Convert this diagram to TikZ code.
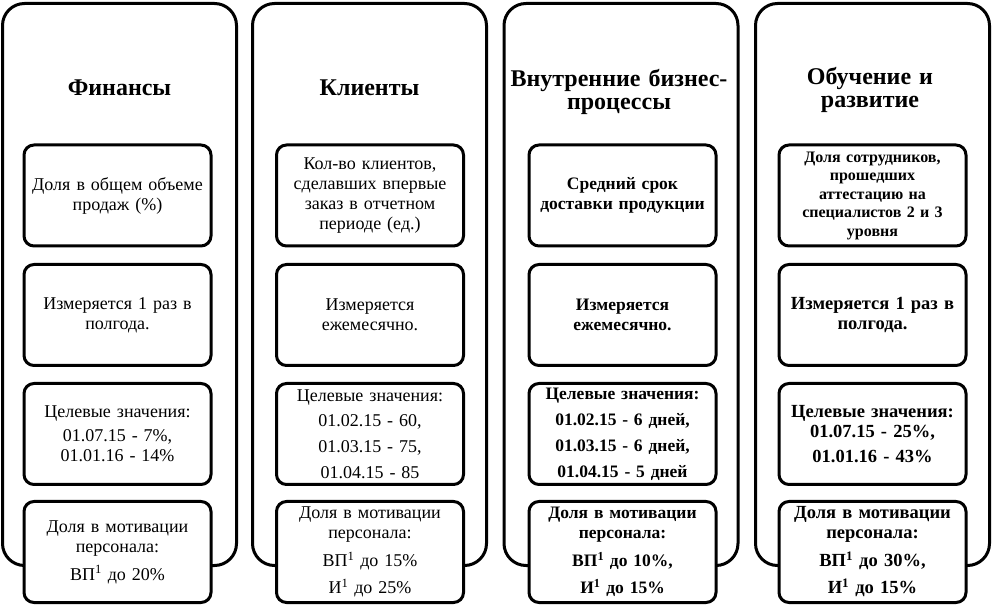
\documentclass[tikz,border=0pt]{standalone}
\usepackage{fontspec}
\setmainfont{Liberation Serif}
\begin{document}
\begin{tikzpicture}[x=1pt,y=-1pt,
  outerbox/.style={draw,line width=3pt,rounded corners=22pt,minimum width=234pt,minimum height=562pt,inner sep=0pt},
  innerbox/.style={draw,fill=white,line width=3pt,rounded corners=10pt,minimum width=187pt,minimum height=101pt,text width=184pt,align=center,inner sep=0pt,font=\fontsize{18}{20}\selectfont},
  boldbox/.style={innerbox,font=\fontsize{17.5}{20}\selectfont\bfseries},
  bigbold/.style={innerbox,font=\fontsize{18.5}{20}\selectfont\bfseries},
  header/.style={align=center,font=\fontsize{24}{23.5}\selectfont\bfseries,text width=232pt}]
\useasboundingbox (0,0) rectangle (994,609);
% outer columns
\node[outerbox] (c1) at (119.5,284.5) {};
\node[outerbox] (c2) at (369.5,284.5) {};
\node[outerbox] (c3) at (621,284.5) {};
\node[outerbox] (c4) at (872.5,284.5) {};
% headers
\node[header] (h1) at (119.5,88) {Финансы};
\node[header] (h2) at (369.5,88) {Клиенты};
\node[header] (h3) at (619,92) {Внутренние бизнес-\\процессы};
\node[header] (h4) at (870,90) {Обучение и\\развитие};
% column 1
\node[innerbox] (a1) at (117.5,195.5) {Доля в общем объеме\\продаж (\%)};
\node[innerbox] (a2) at (117.5,315) {Измеряется 1 раз в\\полгода.};
\node[innerbox] (a3) at (117.5,434) {Целевые значения:\\[4pt]01.07.15 - 7\%,\\01.01.16 - 14\%};
\node[innerbox] (a4) at (117.5,552) {Доля в мотивации\\персонала:\\[8pt]ВП\textsuperscript{1} до 20\%};
% column 2
\node[innerbox] (b1) at (370,195.5) {Кол-во клиентов,\\сделавших впервые\\заказ в отчетном\\периоде (ед.)};
\node[innerbox] (b2) at (370,315) {Измеряется\\ежемесячно.};
\node[innerbox] (b3) at (370,434) {Целевые значения:\\[5pt]01.02.15 - 60,\\[6pt]01.03.15 - 75,\\[6pt]01.04.15 - 85};
\node[innerbox] (b4) at (370,552) {Доля в мотивации\\персонала:\\[8pt]ВП\textsuperscript{1} до 15\%\\[7pt]И\textsuperscript{1} до 25\%};
% column 3
\node[boldbox] (d1) at (622.5,195.5) {Средний срок\\доставки продукции};
\node[boldbox] (d2) at (622.5,315) {Измеряется\\ежемесячно.};
\node[boldbox] (d3) at (622.5,434) {Целевые значения:\\[6pt]01.02.15 - 6 дней,\\[6pt]01.03.15 - 6 дней,\\[6pt]01.04.15 - 5 дней};
\node[boldbox] (d4) at (622.5,552) {Доля в мотивации\\персонала:\\[8pt]ВП\textsuperscript{1} до 10\%,\\[7pt]И\textsuperscript{1} до 15\%};
% column 4
\node[boldbox,font=\fontsize{16}{18.5}\selectfont\bfseries] (e1) at (872.5,195.5) {Доля сотрудников,\\прошедших\\аттестацию на\\специалистов 2 и 3\\уровня};
\node[bigbold] (e2) at (872.5,315) {Измеряется 1 раз в\\полгода.};
\node[bigbold] (e3) at (872.5,434) {Целевые значения:\\01.07.15 - 25\%,\\[5pt]01.01.16 - 43\%};
\node[bigbold] (e4) at (872.5,552) {Доля в мотивации\\персонала:\\[8pt]ВП\textsuperscript{1} до 30\%,\\[7pt]И\textsuperscript{1} до 15\%};
\end{tikzpicture}
\end{document}
